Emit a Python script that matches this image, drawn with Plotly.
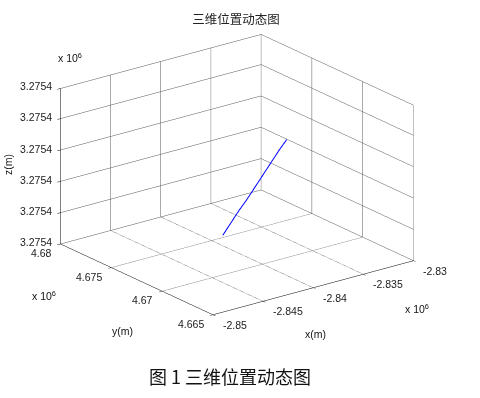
import plotly.graph_objects as go

# Trajectory samples (metres)
x_pos = [-2841710, -2841170, -2840640, -2840110, -2839570, -2839030, -2838500, -2837960, -2837430]
y_pos = [4672220, 4671960, 4671700, 4671440, 4671180, 4670920, 4670660, 4670400, 4670145]
z_pos = [3275407.5, 3275411.3, 3275415.0, 3275418.6, 3275422.4, 3275426.2, 3275430.0, 3275433.8, 3275437.5]

# Axis ticks
x_ticks = [-2850000, -2845000, -2840000, -2835000, -2830000]
x_labels = ["-2.85", "-2.845", "-2.84", "-2.835", "-2.83"]
y_ticks = [4665000, 4670000, 4675000, 4680000]
y_labels = ["4.665", "4.67", "4.675", "4.68"]
z_ticks = [3275400, 3275410, 3275420, 3275430, 3275440, 3275450]
z_labels = ["3.2754"] * 6

title_text = "三维位置动态图"
caption_text = "图 1 三维位置动态图"

FONT = "Liberation Sans, Arial, sans-serif"
tick_font = dict(family=FONT, size=10.5, color="#1a1a1a")

def axis(ticks, rng):
    return dict(
        range=[rng[0], rng[1]],
        tickvals=ticks,
        showticklabels=False,
        title=dict(text=""),
        showgrid=True,
        gridcolor="#555555",
        gridwidth=1,
        showline=True,
        linecolor="black",
        linewidth=1,
        ticks="outside",
        ticklen=4,
        tickcolor="black",
        zeroline=False,
        showbackground=False,
        showspikes=False,
    )

fig = go.Figure()
fig.add_trace(go.Scatter3d(
    x=x_pos, y=y_pos, z=z_pos,
    mode="lines",
    line=dict(color="#0000ff", width=2),
    showlegend=False,
    hoverinfo="skip",
))

# Tick labels placed at the tick positions in data space
scene_ann = []
for v, t in zip(z_ticks, z_labels):
    scene_ann.append(dict(x=x_ticks[0], y=y_ticks[-1], z=v, text=t, showarrow=False,
                          xanchor="right", yanchor="middle", xshift=-7, yshift=2, font=tick_font))
for v, t in zip(y_ticks, y_labels):
    scene_ann.append(dict(x=x_ticks[0], y=v, z=z_ticks[0], text=t, showarrow=False,
                          xanchor="right", yanchor="middle", xshift=-7, yshift=-9, font=tick_font))
for v, t in zip(x_ticks, x_labels):
    scene_ann.append(dict(x=v, y=y_ticks[0], z=z_ticks[0], text=t, showarrow=False,
                          xanchor="left", yanchor="middle", xshift=8, yshift=-10, font=tick_font))

k = 1.25
eye = dict(x=-0.5668 * k, y=-0.7440 * k, z=0.3539 * k)

fig.update_layout(
    width=480, height=398,
    margin=dict(l=0, r=0, t=0, b=0),
    paper_bgcolor="white",
    plot_bgcolor="white",
    title=dict(text=title_text, x=236 / 480, xanchor="center", y=1 - 20 / 398, yanchor="middle",
               font=dict(family="Noto Sans CJK SC", size=12.5, color="#222")),
    scene=dict(
        domain=dict(x=[0.0588, 0.9288], y=[0.1466, 0.9766]),
        xaxis=axis(x_ticks, (x_ticks[0], x_ticks[-1])),
        yaxis=axis(y_ticks, (y_ticks[0], y_ticks[-1])),
        zaxis=axis(z_ticks, (z_ticks[0], z_ticks[-1])),
        aspectmode="manual",
        aspectratio=dict(x=1.528, y=1.524, z=1.01),
        camera=dict(
            eye=eye,
            center=dict(x=0, y=0, z=0),
            up=dict(x=0, y=0, z=1),
            projection=dict(type="orthographic"),
        ),
        bgcolor="white",
        annotations=scene_ann,
    ),
)

# paper-coordinate helper (pixels -> fractions)
def px(xp, yp):
    return xp / 480.0, 1 - yp / 398.0

notes = [
    ("x(m)", 315, 334, 10.5, FONT, 0),
    ("y(m)", 122, 331, 10.5, FONT, 0),
    ("z(m)", 8, 165, 10.5, FONT, -90),
    ("x 10<sup>6</sup>", 70, 57, 10.5, FONT, 0),
    ("x 10<sup>6</sup>", 44, 295, 10.5, FONT, 0),
    ("x 10<sup>6</sup>", 417, 308, 10.5, FONT, 0),
    (caption_text, 229.5, 376, 18, "Noto Sans CJK SC", 0),
]
ann = []
for text, xp, yp, size, fam, ang in notes:
    xf, yf = px(xp, yp)
    ann.append(dict(text=text, x=xf, y=yf, xref="paper", yref="paper", showarrow=False,
                    textangle=ang, xanchor="center", yanchor="middle",
                    font=dict(family=fam, size=size, color="#111")))
fig.update_layout(annotations=ann)

fig.write_html("out.html")
